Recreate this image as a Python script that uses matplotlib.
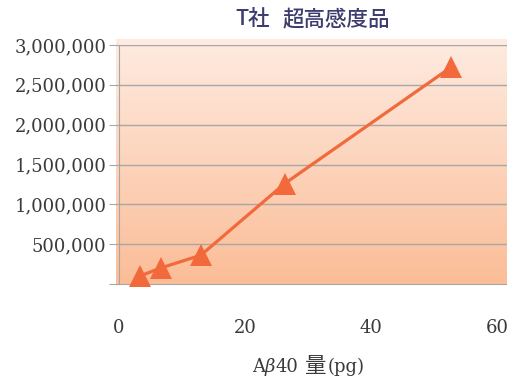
import numpy as np
import matplotlib
matplotlib.use("Agg")
import matplotlib.pyplot as plt
from matplotlib.colors import LinearSegmentedColormap

# 測定値
amount_pg = [3.3, 6.6, 13.0, 26.3, 52.7]
signal = [100000, 200000, 362000, 1260000, 2720000]

y_ticks = [0, 500000, 1000000, 1500000, 2000000, 2500000, 3000000]
y_labels = ["", "500,000", "1,000,000", "1,500,000", "2,000,000", "2,500,000", "3,000,000"]
x_ticks = [0, 20, 40, 60]
x_labels = ["0", "20", "40", "60"]

serif = ["DejaVu Serif", "Noto Sans CJK JP"]
sans = ["Noto Sans CJK JP", "DejaVu Sans"]
txt_color = "#3A3A3A"
W, H = 507, 381

fig = plt.figure(figsize=(W / 100, H / 100), dpi=100)
ax = fig.add_axes([119 / W, 97 / H, 388 / W, 239 / H])

xmax = 61.6
ymax = 3000000
ax.set_xlim(0, xmax)
ax.set_ylim(0, ymax)

# 背景のグラデーション（上が淡く、下が濃い）
cmap = LinearSegmentedColormap.from_list("bg", ["#FBBD97", "#FEEBE1"])
grad = np.linspace(0, 1, 256).reshape(-1, 1)
ax.imshow(grad, cmap=cmap, origin="lower", aspect="auto",
          extent=(-0.5, xmax, 0, ymax * 1.021), zorder=0, clip_on=False)

for yv in y_ticks[1:]:
    ax.axhline(yv, color="#A6A6A6", lw=1.0, zorder=1)

ax.plot(amount_pg, signal, color="#F26A3C", lw=2.3, marker="^",
        markersize=16, markeredgewidth=0, zorder=3, clip_on=False)

for s in ["top", "right"]:
    ax.spines[s].set_visible(False)
ax.spines["left"].set_color("#A6A6A6")
ax.spines["bottom"].set_color("#A6A6A6")
ax.spines["left"].set_zorder(2)

ax.set_yticks(y_ticks)
ax.set_yticklabels(y_labels, family=serif, fontsize=13, color=txt_color)
ax.tick_params(axis="y", length=7, color="#A6A6A6", pad=2)

ax.set_xticks(x_ticks)
ax.set_xticklabels(x_labels, family=serif, fontsize=13, color=txt_color)
ax.tick_params(axis="x", length=0, pad=25)

# x軸ラベル: 部分ごとに書体を変えて横に並べる
pieces = [("A", serif, 13, "normal", 0),
          ("β", serif, 13, "italic", 0),
          ("40", serif, 13, "normal", 0),
          ("量", ["Noto Sans CJK JP"], 15.5, "normal", 7),
          ("(pg)", serif, 13, "normal", 1)]
fig.canvas.draw()
r = fig.canvas.get_renderer()
xpos = 252
for s, fam, size, style, gap in pieces:
    xpos += gap
    t = fig.text(xpos / W, 9 / H, s, family=fam, fontsize=size, style=style,
                 color=txt_color, va="baseline", ha="left")
    xpos = t.get_window_extent(r).x1

title_color = "#3C3C6E"
fig.text(235 / W, 1 - 19 / H, "T社", family=sans, fontsize=15.5,
         color=title_color, ha="left", va="center", weight="medium")
fig.text(283 / W, 1 - 19 / H, "超高感度品", family=sans, fontsize=15.5,
         color=title_color, ha="left", va="center", weight="medium")

fig.savefig("out.png", dpi=100)
